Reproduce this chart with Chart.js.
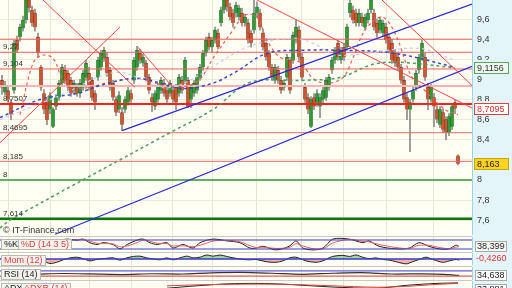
<!DOCTYPE html>
<html>
<head>
<meta charset="utf-8">
<script src="https://cdn.jsdelivr.net/npm/chart.js@4.4.1/dist/chart.umd.min.js"></script>
<style>
  body { margin: 0; width: 512px; height: 288px; overflow: hidden; background: #fffff3; font-family: "Liberation Sans", Arial, sans-serif; position: relative; }
  canvas { position: absolute; left: 0; }
  #strip { position: absolute; left: 472px; top: 0; width: 40px; height: 288px; background: #e4f5fa; }
  .sep { position: absolute; left: 0; width: 472px; height: 1px; background: #c9c9c0; }
  .lbl { position: absolute; font-size: 9px; line-height: 9px; padding: 0 2px; border: 1px solid #b8b8b8; background: #f3f3ee; color: #222; }
  .val { position: absolute; left: 475px; font-size: 9px; line-height: 9px; padding: 0 1px; border: 1px solid #aaa; background: #fff; color: #222; }
  #copy { position: absolute; left: 3px; top: 225px; font-size: 9px; color: #333; }
</style>
</head>
<body>
<div id="strip"></div>
<canvas id="main" width="512" height="235" style="top:0"></canvas>
<div id="copy">© IT-Finance.com</div>
<div class="sep" style="top:236px"></div>
<canvas id="stoch" width="512" height="15" style="top:237px"></canvas>
<div class="sep" style="top:252px"></div>
<canvas id="mom" width="512" height="12" style="top:253px"></canvas>
<div class="sep" style="top:266px"></div>
<canvas id="rsi" width="512" height="13" style="top:267px"></canvas>
<div class="sep" style="top:280px"></div>
<canvas id="adx" width="512" height="12" style="top:281px"></canvas>

<div class="lbl" style="left:1px;top:239px">%K</div>
<div class="lbl" style="left:18px;top:239px;color:#e04040">%D (14 3 5)</div>
<div class="lbl" style="left:1px;top:255px;color:#e04040">Mom (12)</div>
<div class="lbl" style="left:1px;top:269px">RSI (14)</div>
<div class="lbl" style="left:1px;top:283px">ADX</div>
<div class="lbl" style="left:21px;top:283px;color:#e04040">ADXR (14)</div>

<div class="val" style="top:241px">38,399</div>
<div class="val" style="top:254px;border:none;background:none;color:#e03030">-0,4260</div>
<div class="val" style="top:270px">34,638</div>
<div class="val" style="top:284px">33,881</div>

<script>
// daily candles
const opens = [
  8.99,8.87,8.89,8.77,8.89,9.39,9.42,9.51,9.59,9.79,
  9.69,9.66,9.42,9.12,8.86,8.77,8.70,8.53,8.73,8.82,
  8.96,9.09,9.06,8.99,8.89,8.92,8.86,8.92,9.02,9.06,
  8.99,8.86,9.02,9.12,9.21,9.22,9.09,8.96,8.80,8.70,
  8.67,8.70,8.77,8.86,8.99,9.12,9.26,9.16,9.16,9.02,
  8.82,8.73,8.80,8.89,8.96,8.89,8.86,8.89,8.92,8.86,
  8.99,8.99,8.99,8.80,8.86,8.89,9.02,9.12,9.26,9.42,
  9.32,9.39,9.46,9.56,9.69,9.79,9.72,9.66,9.66,9.62,
  9.66,9.56,9.56,9.46,9.49,9.66,9.66,9.46,9.36,9.26,
  9.12,8.99,9.09,8.99,8.92,9.02,9.19,9.19,9.39,9.49,
  9.22,8.92,8.82,8.53,8.82,8.77,8.73,8.80,8.82,8.92,
  9.09,9.19,9.36,9.19,9.32,9.32,9.66,9.69,9.66,9.56,
  9.62,9.52,9.59,9.69,9.66,9.56,9.49,9.46,9.52,9.42,
  9.36,9.26,9.22,9.12,8.99,8.82,8.70,8.80,8.92,9.09,
  9.22,9.22,8.92,8.80,8.82,8.70,8.55,8.67,8.60,8.47,
  8.53,8.77,8.24
];
const highs = [
  9.04,8.98,8.92,8.80,9.39,9.43,9.55,9.63,9.85,9.86,
  9.73,9.70,9.46,9.14,8.90,8.81,8.87,8.72,8.85,8.99,
  9.15,9.14,9.09,9.02,8.99,8.96,9.00,9.09,9.19,9.12,
  9.02,8.89,9.22,9.29,9.32,9.27,9.12,8.99,8.83,8.88,
  8.72,8.83,8.92,8.90,9.22,9.33,9.30,9.25,9.19,9.05,
  8.86,8.89,8.96,9.02,9.00,8.92,8.99,8.94,8.95,9.05,
  9.03,9.22,9.02,8.95,8.99,9.05,9.15,9.29,9.42,9.46,
  9.42,9.52,9.50,9.72,9.84,9.85,9.76,9.70,9.77,9.74,
  9.71,9.65,9.60,9.49,9.79,9.77,9.70,9.50,9.39,9.29,
  9.15,9.15,9.13,9.03,8.99,9.25,9.22,9.47,9.59,9.53,
  9.26,8.96,8.86,8.83,8.86,8.90,8.86,8.92,9.02,9.05,
  9.22,9.32,9.39,9.32,9.36,9.55,9.79,9.73,9.70,9.70,
  9.66,9.65,9.70,9.84,9.70,9.60,9.62,9.59,9.56,9.45,
  9.40,9.30,9.26,9.15,9.03,8.86,8.80,8.93,9.09,9.25,
  9.39,9.26,8.96,8.95,8.86,8.74,8.73,8.71,8.63,8.66,
  8.76,8.80,8.25
];
const lows = [
  8.85,8.84,8.77,8.60,8.86,9.27,9.38,9.48,9.56,9.67,
  9.53,9.48,9.22,8.89,8.66,8.55,8.66,8.52,8.70,8.79,
  8.93,8.96,8.89,8.83,8.85,8.83,8.82,8.89,8.99,8.89,
  8.79,8.70,8.99,9.09,9.18,9.03,8.89,8.79,8.64,8.67,
  8.49,8.67,8.74,8.77,8.96,9.09,9.16,9.13,8.99,8.86,
  8.68,8.70,8.77,8.86,8.83,8.77,8.83,8.77,8.70,8.83,
  8.86,8.96,8.72,8.72,8.83,8.86,8.99,9.09,9.23,9.29,
  9.27,9.36,9.30,9.53,9.66,9.68,9.59,9.52,9.62,9.59,
  9.53,9.53,9.36,9.32,9.46,9.62,9.49,9.29,9.19,9.09,
  8.99,8.96,8.96,8.86,8.89,8.99,8.86,9.16,9.36,9.19,
  8.99,8.77,8.66,8.52,8.70,8.73,8.62,8.76,8.79,8.89,
  9.06,9.16,9.19,9.16,9.19,9.29,9.62,9.56,9.53,9.53,
  9.53,9.49,9.56,9.66,9.49,9.42,9.46,9.43,9.36,9.26,
  9.16,9.13,9.09,8.96,8.77,8.60,8.28,8.77,8.89,9.06,
  9.19,8.99,8.70,8.77,8.53,8.57,8.52,8.47,8.40,8.44,
  8.50,8.66,8.15
];
const closes = [
  8.92,8.94,8.80,8.65,9.36,9.29,9.52,9.59,9.79,9.71,
  9.56,9.52,9.26,8.92,8.70,8.60,8.84,8.70,8.82,8.96,
  9.12,8.99,8.92,8.86,8.96,8.86,8.96,9.06,9.16,8.92,
  8.82,8.77,9.19,9.26,9.29,9.06,8.92,8.82,8.67,8.84,
  8.55,8.80,8.89,8.80,9.19,9.29,9.19,9.22,9.02,8.89,
  8.77,8.86,8.92,8.99,8.86,8.80,8.96,8.80,8.77,9.02,
  8.89,9.19,8.73,8.92,8.96,9.02,9.12,9.26,9.39,9.32,
  9.39,9.49,9.32,9.69,9.79,9.72,9.62,9.56,9.74,9.71,
  9.56,9.62,9.39,9.36,9.66,9.72,9.52,9.32,9.22,9.12,
  9.02,9.12,8.99,8.89,8.96,9.22,8.89,9.44,9.52,9.22,
  9.02,8.80,8.70,8.80,8.73,8.86,8.82,8.89,8.99,9.02,
  9.19,9.29,9.22,9.29,9.22,9.52,9.76,9.59,9.56,9.66,
  9.56,9.62,9.66,9.79,9.52,9.46,9.59,9.56,9.39,9.29,
  9.19,9.16,9.12,8.99,8.80,8.70,8.77,8.89,9.06,9.22,
  9.36,9.02,8.80,8.92,8.73,8.60,8.70,8.50,8.47,8.63,
  8.73,8.71,8.16
];

// horizontal support / resistance levels
const levels      = [9.40, 9.27, 9.104, 8.935, 8.755, 8.4695, 8.185, 8.0, 7.614];
const levelLabels = ['', '9,27', '9,104', '', '8,7507', '8,4695', '8,185', '8', '7,614'];

// drawn trend lines: [startIndex, startValue, endIndex, endValue]
const redLines  = [[13.67, 9.79, 44.33, 8.92], [-0.67, 8.37, 39.33, 9.52], [45.33, 9.32, 57, 8.92],
                   [85, 9.79, 156.67, 8.715], [126.67, 9.79, 156.67, 8.94]];
const blueLines = [[40, 8.49, 156.67, 9.75], [17.67, 7.46, 156.67, 9.13]];

// moving averages (dashed), read as index / value
const maRedX  = [6, 10.33, 13.33, 17, 21, 26, 36, 46, 54.33, 64.33, 71, 77, 81, 85, 88.33, 92.67, 99.33, 103.67, 108.33, 113.67, 116.67, 121, 126.67, 131, 136.67, 142, 147.67, 152];
const maRedY  = [8.65, 9.16, 9.24, 9.21, 8.96, 8.91, 8.97, 9.01, 8.94, 8.96, 9.24, 9.49, 9.64, 9.62, 9.39, 9.22, 9.17, 9.01, 8.96, 9.02, 9.19, 9.49, 9.62, 9.46, 9.02, 8.86, 8.70, 8.65];
const maBlueX = [-0.67, 12.67, 25, 32.67, 45.33, 60, 70, 77.67, 88.33, 100.33, 114.33, 131, 151];
const maBlueY = [8.62, 8.80, 8.86, 8.94, 9.01, 8.91, 8.96, 9.07, 9.26, 9.29, 9.29, 9.26, 9.12];
const maPaleX = [-0.67, 19.33, 38.33, 56, 81.67, 97, 103.67, 111.67, 138.67, 151];
const maPaleY = [8.60, 8.84, 9.07, 8.92, 9.32, 9.41, 9.36, 9.24, 9.31, 9.19];
const maGreenX = [-0.67, 2.67, 56, 70.33, 82.67, 100.33, 112.67, 123.67, 132.67, 151];
const maGreenY = [7.52, 7.60, 8.47, 8.70, 8.97, 8.99, 9.02, 9.15, 9.17, 9.1156];

// price tags on the right axis
const tagValues = [9.1156, 8.7095, 8.163];
const tagTexts  = ['9,1156', '8,7095', '8,163'];

const yTicks = [7.6, 7.8, 8.0, 8.2, 8.4, 8.6, 8.8, 9.0, 9.2, 9.4, 9.6];
const monthIdx = [2, 16, 29.33, 43, 56.67, 70.33, 84.67, 99.67, 113.67, 128.33, 143.67];

// indicators
const stochX = [12, 16, 19.3, 21.7, 25, 27, 29.3, 31.7, 33.7, 37, 39.3, 41.7, 45, 47, 49.3, 51.7, 55, 57, 60.3, 63.7, 66, 70.3, 75, 79.3, 82.7, 84.7, 87, 91.3, 95.7, 98, 100.3, 103.7, 107, 110.3, 115.7, 120.3, 122.3, 125.7, 131.3, 135.7, 139, 142.3, 145.7, 149, 151.3, 152.3];
const stochK = [70, 20, 74, 86, 79, 86, 62, 50, 62, 50, 21, 50, 79, 86, 62, 50, 62, 26, 50, 26, 62, 86, 74, 62, 26, 26, 38, 14, 38, 74, 26, 14, 26, 86, 86, 62, 74, 38, 21, 26, 62, 38, 21, 21, 45, 38];
const stochD = [60, 45, 50, 75, 80, 82, 72, 58, 56, 54, 35, 40, 62, 80, 72, 58, 56, 40, 42, 35, 45, 72, 78, 68, 42, 30, 32, 24, 30, 55, 40, 22, 22, 60, 84, 70, 68, 50, 30, 24, 45, 45, 30, 22, 32, 36];

const momX = [11.6, 13.8, 16, 18.2, 20.4, 22.7, 24.9, 27.1, 29.3, 31.6, 33.8, 37.1, 39.3, 41.6, 43.8, 46, 48.2, 50.4, 52.7, 54.9, 57.1, 59.3, 61.6, 63.8, 66, 68.2, 70.4, 72.7, 74.9, 77.1, 80.4, 82.7, 84.7, 88, 91.3, 93.6, 95.8, 98, 101.3, 104.7, 106.9, 110.2, 113.6, 115.8, 118, 120.2, 122.4, 124.7, 126.9, 129.1, 131.3, 134.7, 136.9, 139.1, 141.3, 143.6, 146.9, 149.1, 151.3, 152.4];
const momV = [0.17, -0.28, -0.67, -0.5, -0.12, 0.17, 0.27, 0.05, -0.28, -0.07, 0.05, 0.17, -0.17, 0.17, 0.38, 0.43, 0.17, 0, -0.12, 0.17, -0.12, 0.17, 0.43, 0.17, 0.27, 0.6, 0.43, 0.6, 0.38, 0.17, -0.07, -0.12, -0.07, -0.4, -0.5, -0.28, 0.17, 0.27, -0.28, -0.5, -0.28, 0.38, 0.55, 0.38, 0.6, 0.27, 0.05, 0.17, -0.07, -0.17, -0.4, -0.73, -0.4, -0.07, 0.27, -0.07, -0.5, -0.28, -0.07, -0.17];

const rsiX = [12, 20, 30, 40, 50, 60, 70, 80, 90, 100, 110, 120, 130, 140, 150, 152.3];
const rsiV = [45, 50, 47, 42, 48, 46, 55, 58, 52, 44, 52, 57, 46, 47, 40, 35];

const adxX  = [55, 65, 75, 85, 95, 110, 125, 135, 145, 152];
const adxV  = [20, 30, 38, 40, 36, 25, 20, 32, 40, 42];
const adxrV = [30, 34, 36, 37, 36, 30, 24, 28, 36, 40];

const X_MIN = -0.667, X_MAX = 156.667;
const UP = '#2a9e32', DOWN = '#d0552e';
const UP_EDGE = '#1c5c20', DOWN_EDGE = '#7e2f18';

const pts = (xs, ys) => xs.map((x, i) => ({ x: x, y: ys[i] }));
const seg = s => [{ x: s[0], y: s[1] }, { x: s[2], y: s[3] }];

const xScale = {
  type: 'linear', min: X_MIN, max: X_MAX, offset: false,
  afterBuildTicks: s => { s.ticks = monthIdx.map(v => ({ value: v })); },
  afterFit: s => { s.height = 0; s.paddingLeft = 0; s.paddingRight = 0; },
  ticks: { display: false },
  grid: { color: '#e6e6d6', drawTicks: false, offset: false },
  border: { display: false }
};

const areaFill = {
  id: 'areaFill',
  beforeDraw(chart) {
    const a = chart.chartArea, ctx = chart.ctx;
    ctx.save();
    ctx.fillStyle = '#fffff3';
    ctx.fillRect(a.left, a.top, a.right - a.left, a.bottom - a.top);
    ctx.restore();
  }
};

// --- main price chart
const idx = opens.map((_, i) => i);
const datasets = [];

levels.forEach((v, k) => {
  const styles = [
    ['#f25b5b', 1], ['#f25b5b', 1], ['#f25b5b', 1], ['#ffb3b3', 2], ['#ff2020', 2],
    ['#e46a6a', 1], ['#e46a6a', 1], ['#2f9a2f', 1.5], ['#0b750b', 2.5]
  ][k];
  datasets.push({ type: 'line', data: [{ x: X_MIN, y: v }, { x: X_MAX, y: v }],
    borderColor: styles[0], borderWidth: styles[1], pointRadius: 0, order: 2 });
});
redLines.forEach(s => datasets.push({ type: 'line', data: seg(s), borderColor: '#f24848',
  borderWidth: 1, pointRadius: 0, order: 1 }));
blueLines.forEach(s => datasets.push({ type: 'line', data: seg(s), borderColor: '#2a2ad8',
  borderWidth: 1.2, pointRadius: 0, order: 1 }));

[[maPaleX, maPaleY, '#c4ccf2', 1.2], [maGreenX, maGreenY, '#4e9a63', 1.5],
 [maBlueX, maBlueY, '#3546c8', 1.5], [maRedX, maRedY, '#ec5a4e', 1.2]].forEach(m => {
  datasets.push({ type: 'line', data: pts(m[0], m[1]), borderColor: m[2], borderWidth: m[3],
    borderDash: [3, 3], pointRadius: 0, tension: 0.35, order: 1 });
});

datasets.push({ type: 'bar', data: idx.map(i => ({ x: i, y: [lows[i], highs[i]] })),
  backgroundColor: '#8c8c8c', barThickness: 1, grouped: false, order: 4 });
datasets.push({ type: 'bar', data: idx.map(i => ({ x: i, y: [opens[i], closes[i]] })),
  backgroundColor: idx.map(i => closes[i] >= opens[i] ? UP : DOWN),
  borderColor: idx.map(i => closes[i] >= opens[i] ? UP_EDGE : DOWN_EDGE),
  borderWidth: { left: 0.6, right: 0.6, top: 0.6, bottom: 0.6 },
  barThickness: 3, minBarLength: 1, grouped: false, order: 3 });

const overlay = {
  id: 'overlay',
  afterDatasetsDraw(chart) {
    const ctx = chart.ctx, y = chart.scales.y;
    ctx.save();
    ctx.font = '8px "Liberation Sans", Arial, sans-serif';
    ctx.fillStyle = '#333';
    ctx.textBaseline = 'bottom';
    levels.forEach((v, k) => {
      if (levelLabels[k]) ctx.fillText(levelLabels[k], 3, y.getPixelForValue(v) - 1);
    });
    const look = [['#eef8ee', '#5aa85a', '#333'], ['#ffffff', '#e04040', '#e02828'], ['#ffd420', '#c9a800', '#222']];
    ctx.font = '9px "Liberation Sans", Arial, sans-serif';
    ctx.textBaseline = 'middle';
    tagValues.forEach((v, k) => {
      const py = Math.round(y.getPixelForValue(v));
      ctx.fillStyle = '#e4f5fa';
      ctx.fillRect(473, py - 8, 39, 15);
      ctx.fillStyle = look[k][0];
      ctx.fillRect(474, py - 6, 35, 12);
      ctx.strokeStyle = look[k][1];
      ctx.strokeRect(474.5, py - 5.5, 34, 11);
      ctx.fillStyle = look[k][2];
      ctx.fillText(tagTexts[k], 477, py + 0.5);
    });
    ctx.restore();
  }
};

new Chart(document.getElementById('main'), {
  type: 'bar',
  data: { datasets: datasets },
  options: {
    responsive: false, animation: false,
    layout: { padding: 0 },
    plugins: { legend: { display: false }, tooltip: { enabled: false } },
    scales: {
      x: xScale,
      y: {
        position: 'right', min: 7.452, max: 9.79,
        afterBuildTicks: s => { s.ticks = yTicks.map(v => ({ value: v })); },
        afterFit: s => { s.width = 40; s.paddingTop = 0; s.paddingBottom = 0; },
        ticks: { padding: 5, color: '#333', font: { size: 9, family: '"Liberation Sans", Arial, sans-serif' },
          callback: v => String(+v.toFixed(1)).replace('.', ',') },
        grid: { color: '#ecebdc', drawTicks: false },
        border: { color: '#9ed3e2' }
      }
    }
  },
  plugins: [areaFill, overlay]
});

// --- indicator panels
function panel(id, sets, min, max) {
  new Chart(document.getElementById(id), {
    type: 'line',
    data: { datasets: sets },
    options: {
      responsive: false, animation: false,
      layout: { padding: 0 },
      plugins: { legend: { display: false }, tooltip: { enabled: false } },
      elements: { point: { radius: 0 } },
      scales: {
        x: xScale,
        y: { position: 'right', min: min, max: max,
          afterFit: s => { s.width = 40; s.paddingTop = 0; s.paddingBottom = 0; },
          ticks: { display: false }, grid: { display: false }, border: { color: '#9ed3e2' } }
      }
    },
    plugins: [areaFill]
  });
}
const hline = (v, c, w) => ({ data: [{ x: X_MIN, y: v }, { x: X_MAX, y: v }], borderColor: c, borderWidth: w });

panel('stoch', [
  hline(80, '#3a3ad0', 1), hline(20, '#3a3ad0', 1),
  { data: pts(stochX, stochD), borderColor: '#f06060', borderWidth: 1, tension: 0.3 },
  { data: pts(stochX, stochK), borderColor: '#222', borderWidth: 1, tension: 0.3 }
], 0, 100);

panel('mom', [
  hline(0, '#3a3ad0', 1.5),
  { data: pts(momX, momV), borderColor: '#222', borderWidth: 1, tension: 0.3,
    fill: { target: { value: 0 }, above: 'rgba(40,160,60,0.45)', below: 'rgba(230,80,80,0.45)' } }
], -0.9, 0.9);

panel('rsi', [
  hline(70, '#3a3ad0', 1), hline(30, '#e03030', 1),
  { data: pts(rsiX, rsiV), borderColor: '#333', borderWidth: 1.2, tension: 0.3 }
], 0, 100);

panel('adx', [
  { data: pts(adxX, adxrV), borderColor: '#e04040', borderWidth: 1, tension: 0.3 },
  { data: pts(adxX, adxV), borderColor: '#222', borderWidth: 1, tension: 0.3 }
], 0, 50);
</script>
</body>
</html>
